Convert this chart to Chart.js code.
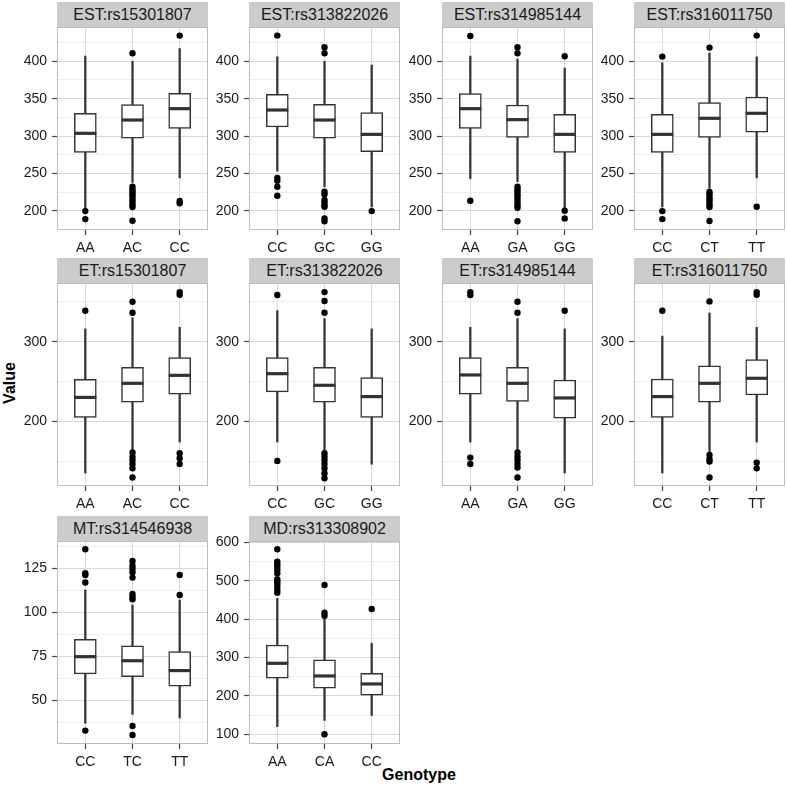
<!DOCTYPE html>
<html>
<head>
<meta charset="utf-8">
<script src="https://cdn.jsdelivr.net/npm/chart.js@4.4.1/dist/chart.umd.min.js"></script>
<style>
  body { margin: 0; background: #fff; font-family: "Liberation Sans", Arial, sans-serif; }
  #page { position: relative; width: 787px; height: 791px; overflow: hidden; }
  canvas { position: absolute; }
  .strip { position: absolute; background: #cccccc; color: #1a1a1a; font-size: 16px;
           text-align: center; line-height: 25px; height: 25px; }
  .axtitle { position: absolute; font-weight: bold; font-size: 16px; color: #000; white-space: nowrap; }
</style>
</head>
<body>
<div id="page">
  <div class="axtitle" style="left:-12px;top:374px;transform:rotate(-90deg);width:44px;text-align:center;">Value</div>
  <div class="axtitle" style="left:369px;top:766px;width:100px;text-align:center;">Genotype</div>
</div>
<script>
// facet titles and genotype categories
const titles = ['EST:rs15301807', 'EST:rs313822026', 'EST:rs314985144', 'EST:rs316011750',
                'ET:rs15301807', 'ET:rs313822026', 'ET:rs314985144', 'ET:rs316011750',
                'MT:rs314546938', 'MD:rs313308902'];
const genotypes = [['AA', 'AC', 'CC'], ['CC', 'GC', 'GG'], ['AA', 'GA', 'GG'], ['CC', 'CT', 'TT'],
                   ['AA', 'AC', 'CC'], ['CC', 'GC', 'GG'], ['AA', 'GA', 'GG'], ['CC', 'CT', 'TT'],
                   ['CC', 'TC', 'TT'], ['AA', 'CA', 'CC']];

// box statistics, one row per facet
const whiskerLow = [[203, 238, 244], [253, 232, 205], [243, 239, 203], [205, 230, 244],
                    [135, 163, 174], [174, 162, 146], [174, 163, 135], [135, 161, 174],
                    [37, 42, 40], [120, 136, 149]];
const q1 = [[278, 297, 310], [312, 297, 279], [310, 298, 278], [278, 298, 305],
            [205, 224, 234], [237, 224, 205], [234, 225, 204], [205, 224, 233],
            [65, 63.4, 58], [246, 220, 202]];
const median = [[303.6, 321.4, 336.6], [334.8, 321.4, 302.2], [336.6, 321.9, 302.2], [302.2, 323.7, 330.4],
                [230, 247.7, 257.7], [259.8, 245.2, 231], [258.2, 247.7, 229.3], [231, 247.7, 254],
                [74.8, 72.5, 66.9], [284.9, 251.9, 231.1]];
const q3 = [[330.4, 342, 357], [355.8, 342.4, 331.3], [356.7, 341.5, 329], [329, 344.6, 352.2],
            [252.7, 267.8, 279.9], [279.9, 267.8, 254.8], [279.9, 267.8, 251.9], [253.1, 269.5, 277.4],
            [84.7, 81, 77.7], [332.6, 293.6, 258.9]];
const whiskerHigh = [[407, 400, 417], [406, 400, 395], [407, 403, 391], [398, 411, 406],
                     [316, 330, 318], [339, 329, 316], [318, 329, 316], [307, 336, 318],
                     [112.7, 104.2, 107], [454, 402, 337]];
const outliers = [
  [[199.5, 188.8], [410.7, 232, 228, 225, 222, 219, 215, 212, 208, 205, 186.6], [434.4, 213, 210]],
  [[434.4, 244, 240, 232, 220], [418.8, 410.7, 225.4, 222, 214.3, 211, 207, 205.4, 189.7, 186], [199.5]],
  [[433.9, 213.4], [418.8, 410.7, 232, 229, 226, 222, 219, 215, 211, 207, 204, 186], [406.7, 200, 189.7]],
  [[406.3, 199.5, 188.8], [418.3, 225, 222, 218, 215, 212, 208, 205, 186.2], [434.4, 205.4]],
  [[338.9], [350.2, 336.4, 160.7, 155.6, 151.5, 146.4, 141, 129.3], [362.3, 359, 159.8, 153.6, 146.4]],
  [[358.6, 150.2], [362.3, 351, 336.4, 159.8, 155.6, 151.5, 146.4, 141, 134.7, 128.5], []],
  [[362.3, 358.6, 154.4, 146.4], [350.2, 336.4, 160.7, 155.6, 151.5, 146.4, 141.8, 129.3], [338.9]],
  [[338.9], [350.6, 157.7, 152.7, 149.4, 129.3], [362.3, 359, 148.1, 141]],
  [[135.8, 122.2, 121.2, 116.9, 32.8], [129.2, 126.5, 124.6, 122.7, 119.7, 110.4, 108.9, 107.4, 35.4, 30.3], [121.2, 109.8]],
  [[581.8, 549.7, 542.7, 536.6, 528, 519.3, 503.6, 497.6, 491.5, 484.5, 475.9, 468.9], [488.9, 416.8, 409, 100], [426.4]]
];

// y axis ranges and ticks per facet
const yMin = [174.2, 174.2, 174.2, 174.2, 118.7, 118.7, 118.7, 118.7, 25.2, 74.7];
const yMax = [445.9, 445.9, 445.9, 445.9, 373.7, 373.7, 373.7, 373.7, 140.5, 603.4];
const estMajor = [200, 250, 300, 350, 400], estMinor = [225, 275, 325, 375, 425];
const etMajor = [200, 300], etMinor = [150, 250, 350];
const majorTicks = [estMajor, estMajor, estMajor, estMajor, etMajor, etMajor, etMajor, etMajor,
                    [50, 75, 100, 125], [100, 200, 300, 400, 500, 600]];
const minorTicks = [estMinor, estMinor, estMinor, estMinor, etMinor, etMinor, etMinor, etMinor,
                    [37.5, 62.5, 87.5, 112.5, 137.5], [150, 250, 350, 450, 550]];

// layout
const COL_LEFT = [57, 249, 442, 634];
const ROW_TOP = [27, 283, 541];
const PLOT_W = 151, PLOT_H = 203, AXIS_W = 45, AXIS_H = 32, STRIP_H = 25, TOP_PAD = 10;
const FONT = "'Liberation Sans', Arial, sans-serif";
const INK = '#333333';

const panelFrame = {
  id: 'panelFrame',
  afterDraw(chart) {
    const a = chart.chartArea, ctx = chart.ctx;
    ctx.save();
    ctx.strokeStyle = '#bdbdbd';
    ctx.lineWidth = 1;
    ctx.strokeRect(a.left + 0.5, a.top + 0.5, a.right - a.left - 1, a.bottom - a.top - 1);
    ctx.restore();
  }
};

const noPad = s => { s.paddingTop = 0; s.paddingBottom = 0; s.paddingLeft = 0; s.paddingRight = 0; };

const page = document.getElementById('page');

titles.forEach((title, i) => {
  const col = i % 4, row = Math.floor(i / 4);
  const left = COL_LEFT[col], top = ROW_TOP[row];

  const strip = document.createElement('div');
  strip.className = 'strip';
  strip.style.left = left + 'px';
  strip.style.top = (top - STRIP_H) + 'px';
  strip.style.width = PLOT_W + 'px';
  strip.textContent = title;
  page.appendChild(strip);

  const canvas = document.createElement('canvas');
  canvas.width = AXIS_W + PLOT_W + 2;
  canvas.height = TOP_PAD + PLOT_H + AXIS_H;
  canvas.style.left = (left - AXIS_W) + 'px';
  canvas.style.top = (top - TOP_PAD) + 'px';
  canvas.style.width = canvas.width + 'px';
  canvas.style.height = canvas.height + 'px';
  page.appendChild(canvas);

  const g = genotypes[i];
  const major = majorTicks[i];
  const isMajor = v => major.some(m => Math.abs(m - v) < 1e-6);
  const yTicks = major.concat(minorTicks[i]).filter(v => v > yMin[i] && v < yMax[i]);

  const pts = [];
  outliers[i].forEach((list, k) => list.forEach(v => pts.push({ x: k, y: v })));

  new Chart(canvas, {
    type: 'bar',
    data: {
      datasets: [
        {
          label: 'whisker', order: 3, grouped: false,
          data: g.map((_, k) => ({ x: k, y: [whiskerLow[i][k], whiskerHigh[i][k]] })),
          backgroundColor: INK, barThickness: 1.6, borderWidth: 0
        },
        {
          label: 'box', order: 2, grouped: false,
          data: g.map((_, k) => ({ x: k, y: [q1[i][k], q3[i][k]] })),
          backgroundColor: '#ffffff', borderColor: INK, borderWidth: 1.5,
          borderSkipped: false, barThickness: 22
        },
        {
          type: 'scatter', label: 'median', order: 1,
          data: g.map((_, k) => ({ x: k, y: median[i][k] })),
          pointStyle: 'line', pointRadius: 11, pointHoverRadius: 11,
          borderColor: INK, pointBorderWidth: 3.2, borderWidth: 3.2
        },
        {
          type: 'scatter', label: 'outlier', order: 0,
          data: pts,
          pointRadius: 3.2, pointHoverRadius: 3.2,
          backgroundColor: '#000000', borderWidth: 0
        }
      ]
    },
    options: {
      responsive: false,
      animation: false,
      events: [],
      layout: { autoPadding: false, padding: { left: 0, right: 2, top: TOP_PAD, bottom: 0 } },
      plugins: { legend: { display: false }, tooltip: { enabled: false } },
      scales: {
        x: {
          type: 'linear', min: -0.6, max: 2.6, offset: false,
          afterBuildTicks: s => { s.ticks = g.map((_, k) => ({ value: k })); },
          afterFit: s => { s.height = AXIS_H; noPad(s); },
          border: { display: false },
          grid: { offset: false, color: '#d9d9d9', lineWidth: 1, tickLength: 5, tickColor: '#444444', tickWidth: 1.2 },
          ticks: { autoSkip: false, callback: v => g[v], padding: 5, color: '#1a1a1a', font: { family: FONT, size: 14 }, maxRotation: 0 }
        },
        y: {
          type: 'linear', min: yMin[i], max: yMax[i],
          afterBuildTicks: s => { s.ticks = yTicks.map(v => ({ value: v })); },
          afterFit: s => { s.width = AXIS_W; noPad(s); },
          border: { display: false },
          grid: {
            color: c => isMajor(c.tick.value) ? '#d9d9d9' : '#eeeeee',
            lineWidth: 1, tickLength: 5, tickWidth: 1.2,
            tickColor: c => isMajor(c.tick.value) ? '#444444' : 'rgba(0,0,0,0)'
          },
          ticks: {
            autoSkip: false,
            callback: v => isMajor(v) ? String(v) : '',
            padding: 5, color: '#1a1a1a', font: { family: FONT, size: 14 }
          }
        }
      }
    },
    plugins: [panelFrame]
  });
});
</script>
</body>
</html>
